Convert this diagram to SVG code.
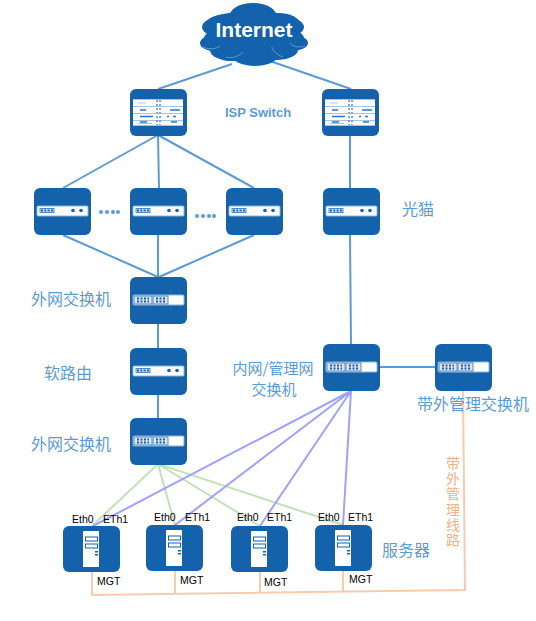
<svg xmlns="http://www.w3.org/2000/svg" width="536" height="621" viewBox="0 0 536 621">
<style>
.bl{fill:#1362AB}
.w{fill:#fff}
.p{fill:#fff;stroke:#8FB3D9;stroke-width:1}
.d{fill:#1362AB}
.ln{fill:none;stroke:#5B9BD5;stroke-width:2}
.gr{fill:none;stroke:#C5E0B4;stroke-width:2}
.pu{fill:none;stroke:#A0A0FF;stroke-width:2}
.or{fill:none;stroke:#F8CBAD;stroke-width:2}
.lab{font-family:"Noto Sans CJK SC","Liberation Sans",sans-serif;font-size:16px;fill:#5B9BD5}
.sm{font-family:"Liberation Sans",sans-serif;font-size:10.500px;fill:#000}
</style>
<defs>
<g id="box"><rect width="57" height="47" rx="6" class="bl"/></g>
<g id="modem"><use href="#box"/><rect x="3" y="18" width="51" height="10" rx="1" class="p"/><rect x="6" y="20.500" width="14" height="4" fill="#DCE6F2" stroke="#5B86BD" stroke-width="1"/><path d="M7 22.500h12" stroke="#1362AB" stroke-width="2" stroke-dasharray="2 1.300" fill="none"/><circle cx="39" cy="22.500" r="1.800" class="d"/><circle cx="47" cy="22.500" r="1.800" class="d"/></g>
<g id="sw"><use href="#box"/><rect x="3" y="18" width="51" height="10" rx="1" fill="#fff" stroke="#8FB3D9" stroke-width="1"/><rect x="4" y="19" width="18" height="8" fill="#DCE6F2" stroke="#5B86BD" stroke-width="1"/><rect x="23" y="19" width="15" height="8" fill="#DCE6F2" stroke="#5B86BD" stroke-width="1"/><path d="M7 21.500h12M7 24.500h12M26 21.500h10M26 24.500h10" stroke="#1362AB" stroke-width="2" stroke-dasharray="2 1.500" fill="none"/></g>
<g id="isp"><use href="#box"/><rect x="3" y="10" width="50" height="27" class="w"/><path d="M3 10.500h50M3 17.500h50M3 24.500h50M3 31.500h50M3 36.500h50" stroke="#A9C4E2" stroke-width="1" fill="none"/><path d="M27 11v25M30 11v25" stroke="#7FA5D0" stroke-width="2" stroke-dasharray="2 2" fill="none"/><path d="M10 21h6M10 27.500h13M10 33h7M40 21h10M37 27.500h2M43 27.500h3M41 33h6" stroke="#2F76B8" stroke-width="1.500" fill="none"/><path d="M8 14h8M8 34.500h14" stroke="#A9C4E2" stroke-width="1" fill="none"/></g>
<g id="srv"><rect width="57" height="46" rx="6" class="bl"/><rect x="20" y="5" width="16" height="36" class="w"/><rect x="22.500" y="11" width="12" height="4" fill="#fff" stroke="#1362AB"/><rect x="22.500" y="18" width="12" height="4" fill="#fff" stroke="#1362AB"/><rect x="32" y="25" width="3" height="1.500" class="d"/><rect x="32" y="28" width="3" height="1.500" class="d"/></g>
</defs>
<g id="connectors">
<path class="ln" d="M232 64L158 89M270 61L351 89M158 135L63 188M158 135L159 188M158 135L254 188M350 135V188M350 235L351 344M63 235L158 277M158 235V277M254 235L159 277M158 324V348M158 395V418M379 367H435"/>
<path class="gr" d="M158 464L92 526M158 464L175 525M158 464L260 526M158 464L343 525"/>
<path class="pu" d="M351 391L93 526M351 391L175 525M351 391L260 526M351 391L343 525"/>
<path class="or" d="M463 390L465 590L92 595V572M175 571V594M260 571V593M343 571V591"/>
</g>
<g id="internet">
<g class="bl">
<ellipse cx="253" cy="27" rx="51" ry="16"/>
<ellipse cx="253" cy="17" rx="24" ry="14"/>
<ellipse cx="228" cy="24" rx="22" ry="10"/>
<ellipse cx="278" cy="24" rx="22" ry="11"/>
<ellipse cx="218" cy="43" rx="18" ry="9"/>
<ellipse cx="291" cy="43" rx="17" ry="8"/>
<ellipse cx="232" cy="50" rx="22" ry="11"/>
<ellipse cx="276" cy="50" rx="22" ry="10"/>
<ellipse cx="255" cy="54" rx="24" ry="12"/>
<ellipse cx="254" cy="38" rx="50" ry="14"/>
</g>
<path d="M203 47C209 50 216 49 220 46M226 57C232 59 240 56 243 52M283 57C277 55 272 50 272 47M305 46C300 48 293 47 290 43" fill="none" stroke="#5B9BD5" stroke-width="1"/>
<text x="254" y="37" text-anchor="middle" font-family="Liberation Sans,sans-serif" font-weight="700" font-size="21" fill="#fff">Internet</text>
</g>
<g id="isp-1"><use href="#isp" x="130" y="89"/></g>
<g id="isp-2"><use href="#isp" x="322" y="89"/></g>
<g id="modem-1"><use href="#modem" x="34" y="188"/></g>
<g id="modem-2"><use href="#modem" x="130" y="188"/></g>
<g id="modem-3"><use href="#modem" x="226" y="188"/></g>
<g id="modem-4"><use href="#modem" x="323" y="188"/></g>
<g id="switch-1"><use href="#sw" x="130" y="277"/></g>
<g id="router"><use href="#modem" x="130" y="348"/></g>
<g id="switch-2"><use href="#sw" x="130" y="418"/></g>
<g id="switch-lan"><use href="#sw" x="323" y="344"/></g>
<g id="switch-oob"><use href="#sw" x="435" y="344"/></g>
<g id="server-1"><use href="#srv" x="63" y="526"/></g>
<g id="server-2"><use href="#srv" x="146" y="525"/></g>
<g id="server-3"><use href="#srv" x="231" y="526"/></g>
<g id="server-4"><use href="#srv" x="315" y="525"/></g>
<g id="dots" fill="#5B9BD5">
<circle cx="101" cy="212" r="2"/><circle cx="107" cy="212" r="2"/><circle cx="113" cy="212" r="2"/><circle cx="118" cy="212" r="2"/>
<circle cx="197" cy="216" r="2"/><circle cx="203" cy="216" r="2"/><circle cx="209" cy="216" r="2"/><circle cx="214" cy="216" r="2"/>
</g>
<g id="labels">
<text x="258" y="117" text-anchor="middle" font-family="Liberation Sans,sans-serif" font-weight="700" font-size="13" fill="#5B9BD5">ISP Switch</text>
<text class="lab" x="402" y="215">光猫</text>
<text class="lab" x="31" y="305">外网交换机</text>
<text class="lab" x="44" y="379">软路由</text>
<text class="lab" x="31" y="450">外网交换机</text>
<text class="lab" text-anchor="middle" x="273" y="374" style="font-size:15px">内网/管理网</text>
<text class="lab" text-anchor="middle" x="274" y="395" style="font-size:15px">交换机</text>
<text class="lab" x="417" y="410">带外管理交换机</text>
<text class="lab" x="382" y="556">服务器</text>
<text x="453" y="456" font-family="Noto Sans CJK SC,sans-serif" font-size="14" fill="#F4B183" letter-spacing="1.400" style="writing-mode:vertical-rl" dominant-baseline="central">带外管理线路</text>
<text class="sm" x="72" y="523">Eth0</text><text class="sm" x="103" y="523">ETh1</text>
<text class="sm" x="154" y="521">Eth0</text><text class="sm" x="185" y="521">ETh1</text>
<text class="sm" x="237" y="521">Eth0</text><text class="sm" x="267" y="521">ETh1</text>
<text class="sm" x="318" y="521">Eth0</text><text class="sm" x="348" y="521">ETh1</text>
<text class="sm" x="97" y="585">MGT</text><text class="sm" x="180" y="584">MGT</text><text class="sm" x="264" y="586">MGT</text><text class="sm" x="349" y="583">MGT</text>
</g>
</svg>
